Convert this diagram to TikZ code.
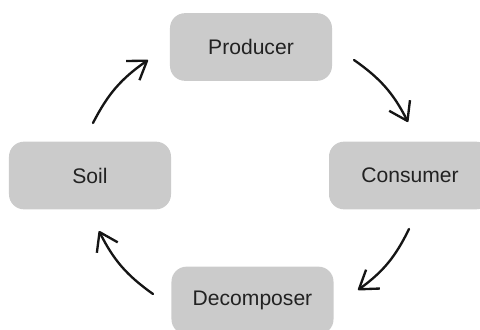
\documentclass[tikz,border=0pt]{standalone}
\usepackage{fontspec}
\setmainfont{Liberation Sans}
\definecolor{cyclegray}{HTML}{CBCBCB}
\definecolor{cycletext}{HTML}{222222}
\definecolor{cyclearrow}{HTML}{151515}
\usetikzlibrary{arrows.meta}

\begin{document}
\begin{tikzpicture}[
  x=0.03cm, y=-0.03cm,
  stage/.style={fill=cyclegray, rounded corners=0.45cm,
    minimum width=4.86cm, minimum height=2.03cm,
    text=cycletext, font=\fontsize{18}{20}\selectfont},
  flow/.style={draw=cyclearrow, line width=2pt, line cap=round,
    -{Straight Barb[length=5.2mm,width=7mm,line join=round]}, bend left=14}
]
  \useasboundingbox (0,0) rectangle (480,329);
  \clip (0,0) rectangle (480,329);

  % Stages of the cycle
  \node[stage] (producer) at (251,47) {Producer};
  \node[stage] (consumer) at (410,175.5) {Consumer};
  \node[stage] (decomposer) at (252.5,300.5) {Decomposer};
  \node[stage] (soil) at (90,175.5) {Soil};

  % Arrow ends
  \coordinate (pc1) at (354,60);
  \coordinate (pc2) at (408,122);
  \coordinate (cd1) at (409,229);
  \coordinate (cd2) at (358,290);
  \coordinate (ds1) at (153,294);
  \coordinate (ds2) at (99,231);
  \coordinate (sp1) at (93,123);
  \coordinate (sp2) at (148,60);

  % Arrows
  \draw[flow] (pc1) to (pc2);
  \draw[flow] (cd1) to (cd2);
  \draw[flow] (ds1) to (ds2);
  \draw[flow] (sp1) to (sp2);
\end{tikzpicture}
\end{document}
